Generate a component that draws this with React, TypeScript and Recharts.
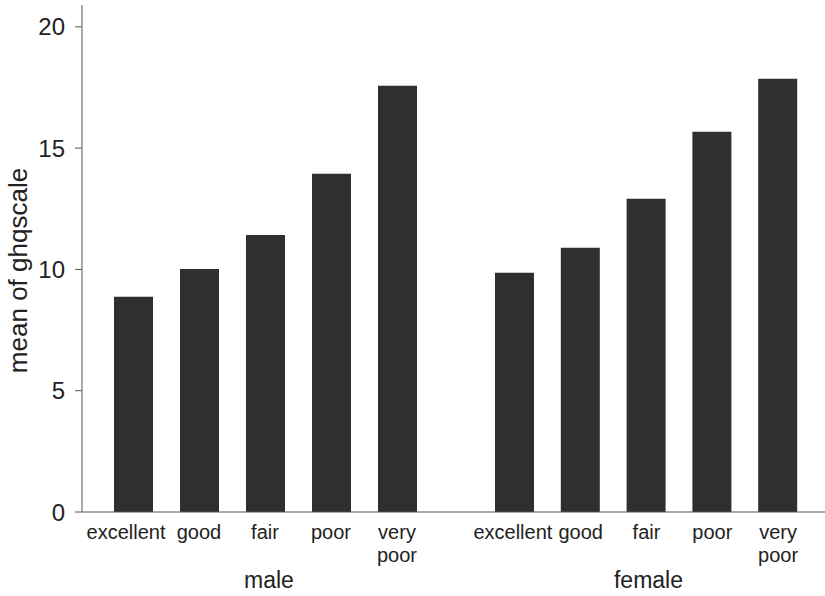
import { BarChart, Bar, XAxis, YAxis } from 'recharts'

const categories = ['excellent', 'good', 'fair', 'poor', 'very poor']
const maleValues = [8.87, 10.02, 11.42, 13.94, 17.57]
const femaleValues = [9.86, 10.89, 12.91, 15.67, 17.86]
const yTicks = [0, 5, 10, 15, 20]

const maleData = categories.map((c, i) => ({ cat: c, value: maleValues[i] }))
const femaleData = categories.map((c, i) => ({ cat: c, value: femaleValues[i] }))

const FONT = '"Liberation Sans", Arial, Helvetica, sans-serif'
const INK = '#222'
const BAR = '#2f2f2f'
const AXIS = '#555'

// multi-line category tick; firstDx nudges the first label so it doesn't crowd the next one
const CatTick = (props: any) => {
  const { x, y, payload, index, firstDx = 0 } = props
  const lines = String(payload.value).split(' ')
  const tx = x + (index === 0 ? firstDx : 0)
  return (
    <text x={tx} y={y} textAnchor="middle" fill={INK} fontSize={20} fontFamily={FONT}>
      {lines.map((l, i) => (
        <tspan key={i} x={tx} dy={i === 0 ? '0.71em' : 23}>{l}</tspan>
      ))}
    </text>
  )
}

const YLabel = (props: any) => {
  const { viewBox } = props
  const cx = viewBox.x + 18
  const cy = viewBox.y + viewBox.height / 2 + 12
  return (
    <text x={cx} y={cy} transform={`rotate(-90 ${cx} ${cy})`} textAnchor="middle" dominantBaseline="central"
      fill={INK} fontSize={26} fontFamily={FONT}>
      mean of ghqscale
    </text>
  )
}

const groupLabel = (text: string, dx: number) => ({
  value: text,
  position: 'insideBottom' as const,
  offset: 8,
  dx,
  fill: INK,
  fontSize: 23,
  fontFamily: FONT,
})

export default function App() {
  return (
    <div style={{ position: 'absolute', left: 0, top: 0, width: 825, height: 596, background: '#fff' }}>
      <div style={{ position: 'absolute', left: 0, top: 0 }}>
        <BarChart width={456} height={596} data={maleData} margin={{ top: 5, right: 0, left: 0, bottom: 0 }}>
          <XAxis dataKey="cat" height={84} padding={{ left: 18, right: 26 }} tick={<CatTick firstDx={-7} />}
            tickLine={false} tickSize={0} tickMargin={13} stroke={AXIS} interval={0}
            label={groupLabel('male', 0)} />
          <YAxis domain={[0, 20.9]} ticks={yTicks} width={82} tickSize={7} tickMargin={10}
            stroke={AXIS} tick={{ fill: INK, fontSize: 24, fontFamily: FONT }}
            label={<YLabel />} />
          <Bar dataKey="value" fill={BAR} barSize={39} isAnimationActive={false} />
        </BarChart>
      </div>
      <div style={{ position: 'absolute', left: 456, top: 0 }}>
        <BarChart width={369} height={596} data={femaleData} margin={{ top: 5, right: 0, left: 0, bottom: 0 }}>
          <XAxis dataKey="cat" height={84} padding={{ left: 26, right: 14 }} tick={<CatTick firstDx={-2} />}
            tickLine={false} tickSize={0} tickMargin={13} stroke={AXIS} interval={0}
            label={groupLabel('female', 8)} />
          <YAxis domain={[0, 20.9]} ticks={yTicks} hide />
          <Bar dataKey="value" fill={BAR} barSize={39} isAnimationActive={false} />
        </BarChart>
      </div>
    </div>
  )
}
